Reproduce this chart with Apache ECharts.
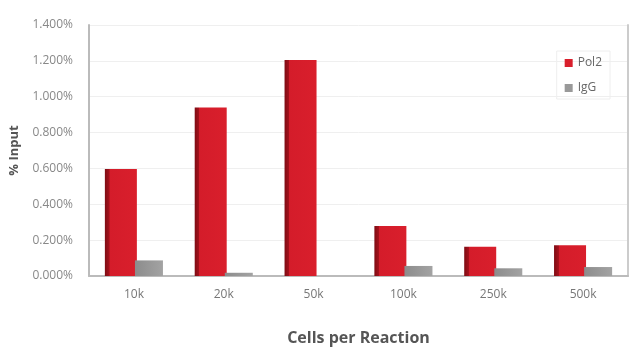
<!DOCTYPE html>
<html><head><meta charset="utf-8">
<script src="https://cdn.jsdelivr.net/npm/echarts@6/dist/echarts.min.js"></script>
<style>html,body{margin:0;padding:0;background:#fff}#c{width:640px;height:354px}</style>
</head><body><div id="c"></div>
<script>
const categories = ['10k','20k','50k','100k','250k','500k'];
const pol2 = [0.597, 0.940, 1.205, 0.279, 0.163, 0.171];
const igg = [0.087, 0.018, 0, 0.056, 0.043, 0.050];
const yTicks = [0, 0.2, 0.4, 0.6, 0.8, 1.0, 1.2, 1.4];

const redGrad = new echarts.graphic.LinearGradient(0,0,1,0,[
  {offset:0,color:'#7e0c14'},{offset:0.14,color:'#a5121c'},
  {offset:0.15,color:'#d41c2a'},{offset:1,color:'#d91f2c'}]);
const grayGrad = new echarts.graphic.LinearGradient(0,0,1,0,[
  {offset:0,color:'#8c8c8c'},{offset:1,color:'#a3a3a3'}]);

const chart = echarts.init(document.getElementById('c'));
chart.setOption({
  animation:false,
  textStyle:{fontFamily:'Open Sans'},
  grid:{left:89,right:12,top:25,bottom:78,containLabel:false,outerBoundsMode:'none'},
  legend:{
    orient:'vertical', right:30, top:51,
    itemWidth:8, itemHeight:8, itemGap:13,
    padding:[6,8,5,8],
    borderColor:'#eeeeee', borderWidth:1,
    icon:'rect',
    textStyle:{color:'#666',fontSize:12,fontFamily:'Open Sans'},
    data:[{name:'Pol2',itemStyle:{color:'#d91f2c'}},{name:'IgG',itemStyle:{color:'#999'}}]
  },
  xAxis:{
    type:'category', data:categories,
    name:'Cells per Reaction', nameLocation:'middle', nameGap:54,
    nameTextStyle:{color:'#555',fontSize:16,fontWeight:'bold',fontFamily:'Open Sans'},
    axisLine:{lineStyle:{color:'#bbb',width:2}},
    axisTick:{show:false},
    axisLabel:{color:'#777',fontSize:12,margin:13}
  },
  yAxis:[{
    type:'value', min:0, max:1.4, interval:0.2,
    name:'% Input', nameLocation:'middle', nameGap:68, nameRotate:90,
    nameTextStyle:{color:'#555',fontSize:13,fontWeight:'bold',fontFamily:'Open Sans'},
    axisLine:{show:true,lineStyle:{color:'#bbb',width:2}},
    axisTick:{show:false},
    splitLine:{lineStyle:{color:'#efefef'}},
    axisLabel:{color:'#888',fontSize:12,margin:16,
      formatter:v=>{const t=yTicks.find(x=>Math.abs(x-v)<1e-6);return (t!==undefined?t:v).toFixed(3)+'%';}}
  },{
    type:'value', min:0, max:1.4, interval:0.2, position:'right',
    axisLine:{show:true,lineStyle:{color:'#ccc',width:2}},
    axisTick:{show:false}, axisLabel:{show:false}, splitLine:{show:false}
  }],
  series:[
    {name:'Pol2',type:'bar',data:pol2,barWidth:32,barGap:'-6%',itemStyle:{color:redGrad}},
    {name:'IgG',type:'bar',data:igg,barWidth:28,itemStyle:{color:grayGrad}}
  ]
});
</script></body></html>
